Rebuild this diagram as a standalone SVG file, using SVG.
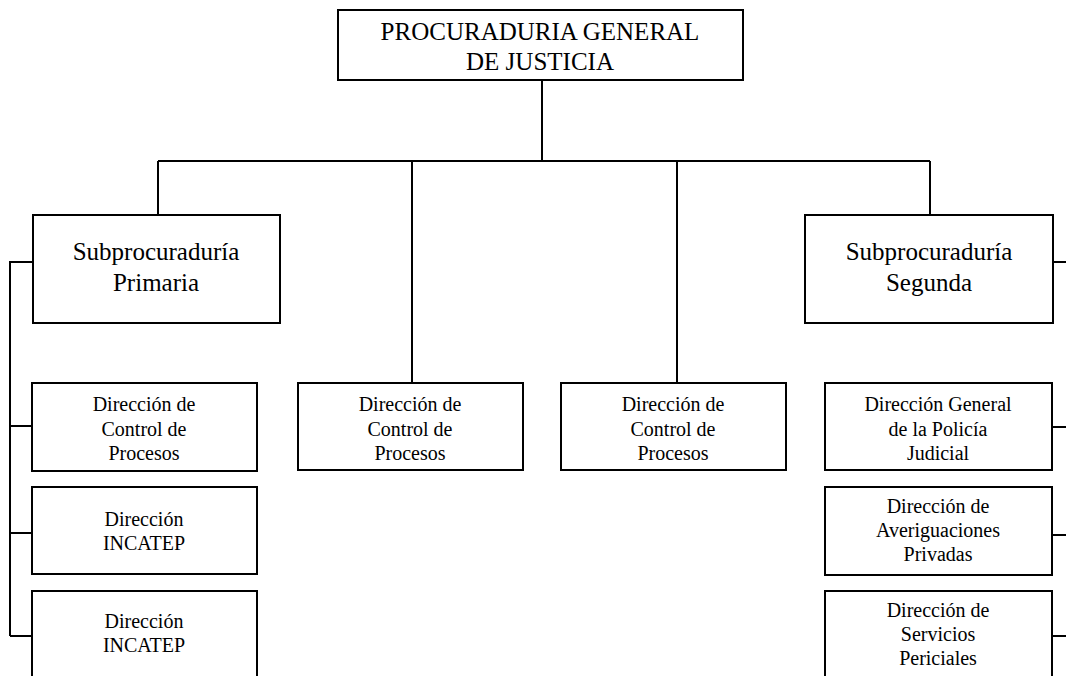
<svg xmlns="http://www.w3.org/2000/svg" width="1066" height="676" viewBox="0 0 1066 676">
<style>
.box{fill:#fff;stroke:#000;stroke-width:2}
.ln{fill:none;stroke:#000;stroke-width:2}
text{font-family:"Liberation Serif","Times New Roman",serif;fill:#000;text-anchor:middle}
.t1{font-size:25px}
.t2{font-size:25px}
.t3{font-size:20px}
</style>
<rect width="1066" height="676" fill="#fff"/>
<g id="connectors">
<path class="ln" d="M542 80V161M158 161H930M158 161V215M412 161V383M677 161V383M930 161V215"/>
<path class="ln" d="M33 262H10V636M10 426H32M10 533H32M10 636H32"/>
<path class="ln" d="M1053 262H1066M1052 427H1066M1052 535H1066M1052 636H1066"/>
</g>
<g id="pgj"><rect class="box" x="338" y="10" width="405" height="70"/>
<text class="t1" x="540" y="40">PROCURADURIA GENERAL</text><text class="t1" x="540" y="70">DE JUSTICIA</text></g>
<g id="sub1"><rect class="box" x="33" y="215" width="247" height="108"/>
<text class="t2" x="156" y="260">Subprocuraduría</text><text class="t2" x="156" y="291">Primaria</text></g>
<g id="sub2"><rect class="box" x="805" y="215" width="248" height="108"/>
<text class="t2" x="929" y="260">Subprocuraduría</text><text class="t2" x="929" y="291">Segunda</text></g>
<g id="d1"><rect class="box" x="32" y="383" width="225" height="88"/>
<text class="t3" x="144" y="411">Dirección de</text><text class="t3" x="144" y="436">Control de</text><text class="t3" x="144" y="460">Procesos</text></g>
<g id="d2"><rect class="box" x="32" y="487" width="225" height="87"/>
<text class="t3" x="144" y="526">Dirección</text><text class="t3" x="144" y="550">INCATEP</text></g>
<g id="d3"><rect class="box" x="32" y="591" width="225" height="100"/>
<text class="t3" x="144" y="628">Dirección</text><text class="t3" x="144" y="652">INCATEP</text></g>
<g id="d4"><rect class="box" x="298" y="383" width="225" height="87"/>
<text class="t3" x="410" y="411">Dirección de</text><text class="t3" x="410" y="436">Control de</text><text class="t3" x="410" y="460">Procesos</text></g>
<g id="d5"><rect class="box" x="561" y="383" width="225" height="87"/>
<text class="t3" x="673" y="411">Dirección de</text><text class="t3" x="673" y="436">Control de</text><text class="t3" x="673" y="460">Procesos</text></g>
<g id="d6"><rect class="box" x="825" y="383" width="227" height="87"/>
<text class="t3" x="938" y="411">Dirección General</text><text class="t3" x="938" y="436">de la Policía</text><text class="t3" x="938" y="460">Judicial</text></g>
<g id="d7"><rect class="box" x="825" y="487" width="227" height="88"/>
<text class="t3" x="938" y="513">Dirección de</text><text class="t3" x="938" y="537">Averiguaciones</text><text class="t3" x="938" y="561">Privadas</text></g>
<g id="d8"><rect class="box" x="825" y="591" width="227" height="100"/>
<text class="t3" x="938" y="617">Dirección de</text><text class="t3" x="938" y="641">Servicios</text><text class="t3" x="938" y="665">Periciales</text></g>
</svg>
